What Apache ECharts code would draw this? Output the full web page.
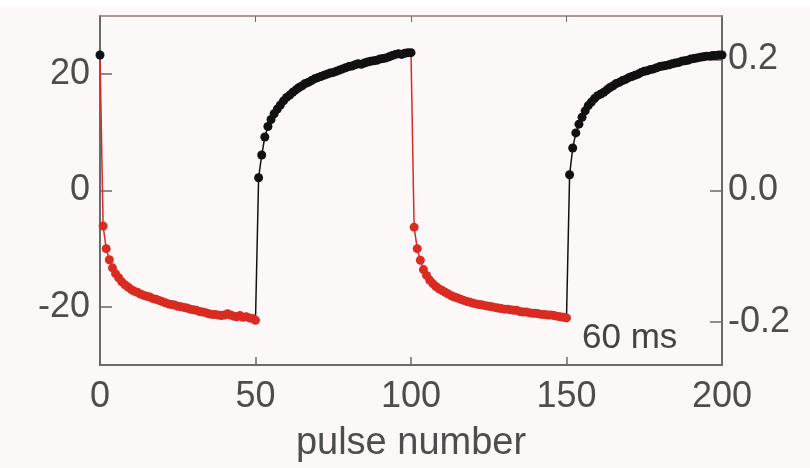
<!DOCTYPE html>
<html>
<head>
<meta charset="utf-8">
<script src="https://cdn.jsdelivr.net/npm/echarts@6/dist/echarts.min.js"></script>
<style>html,body{margin:0;padding:0;background:#fcf8f7;}#c{width:810px;height:468px;}</style>
</head>
<body>
<div id="c"></div>
<script>
// pulse 0 value (end of previous cycle)
var startVal = 23.3;
// pulses 1..50 (red)
var red1Vals = [-6.1,-10.0,-11.9,-13.3,-14.3,-15.0,-15.7,-16.2,-16.6,-17.0,
  -17.3,-17.5,-17.8,-18.0,-18.2,-18.3,-18.6,-18.7,-18.9,-19.1,
  -19.3,-19.5,-19.6,-19.7,-19.9,-20.0,-20.1,-20.2,-20.4,-20.5,
  -20.6,-20.8,-20.9,-21.0,-21.2,-21.3,-21.3,-21.4,-21.5,-21.4,
  -21.2,-21.4,-21.6,-21.7,-21.5,-21.8,-21.7,-21.9,-22.0,-22.3];
// pulses 51..100 (black)
var black2Vals = [2.2,6.1,9.2,11.0,12.2,13.2,14.0,14.7,15.4,16.0,
  16.4,16.9,17.3,17.7,18.0,18.4,18.6,18.9,19.2,19.4,
  19.6,19.8,20.0,20.2,20.3,20.5,20.7,20.9,21.1,21.3,
  21.4,21.6,21.8,21.7,21.9,22.1,22.2,22.3,22.4,22.6,
  22.7,22.8,23.0,23.2,23.4,23.5,23.4,23.6,23.7,23.7];
// pulses 101..150 (red)
var red3Vals = [-6.3,-10.0,-12.0,-13.6,-14.6,-15.4,-16.0,-16.5,-16.9,-17.2,
  -17.5,-17.8,-18.1,-18.3,-18.5,-18.7,-18.9,-19.1,-19.2,-19.4,
  -19.5,-19.6,-19.7,-19.8,-19.9,-20.0,-20.1,-20.2,-20.3,-20.4,
  -20.4,-20.5,-20.6,-20.6,-20.8,-20.9,-20.9,-21.0,-21.1,-21.1,
  -21.2,-21.3,-21.3,-21.4,-21.4,-21.5,-21.6,-21.7,-21.8,-21.9];
// pulses 151..200 (black)
var black4Vals = [2.7,7.3,9.9,11.4,12.6,13.7,14.6,15.2,15.8,16.3,
  16.6,16.9,17.3,17.7,18.0,18.4,18.6,18.9,19.1,19.4,
  19.6,19.8,20.0,20.3,20.5,20.6,20.8,20.9,21.1,21.3,
  21.4,21.5,21.6,21.8,21.9,22.0,22.2,22.3,22.4,22.6,
  22.7,22.8,22.9,23.0,23.1,23.1,23.2,23.2,23.3,23.3];
var xTicks = [50, 100, 150];
var leftTicks = [-20, 0, 20];
var rightTicks = [-0.2, 0, 0.2];

var RED = '#d92b22', BLACK = '#111111', TXT = '#4d4d4d', AX = '#6a6a6a';
var FONT = '"Liberation Sans", Arial, Helvetica, sans-serif';

function seg(prevX, prevY, startX, vals) {
  var d = [{value: [prevX, prevY], symbol: 'none'}];
  vals.forEach(function (v, i) { d.push([startX + i, v]); });
  return d;
}
var segs = [
  {color: BLACK, data: [[0, startVal]]},
  {color: RED, data: seg(0, startVal, 1, red1Vals)},
  {color: BLACK, data: seg(50, red1Vals[49], 51, black2Vals)},
  {color: RED, data: seg(100, black2Vals[49], 101, red3Vals)},
  {color: BLACK, data: seg(150, red3Vals[49], 151, black4Vals)}
];

var chart = echarts.init(document.getElementById('c'), null, {renderer: 'canvas'});
chart.setOption({
  backgroundColor: '#fcf8f7',
  animation: false,
  grid: {left: 100, right: 88, top: 16, bottom: 101, containLabel: false},
  graphic: [
    {type: 'rect', shape: {x: 0, y: 0, width: 810, height: 7}, style: {fill: '#ffffff'}, z: -10},
    {type: 'text', left: 582, top: 321, style: {text: '60 ms', font: '35px ' + FONT, fill: '#444'}}
  ],
  xAxis: [{
    type: 'value', min: 0, max: 200, interval: 50, position: 'bottom',
    name: 'pulse number', nameLocation: 'middle', nameGap: 60,
    nameTextStyle: {fontSize: 38, color: TXT, fontFamily: FONT},
    axisLine: {show: true, onZero: false, lineStyle: {color: AX, width: 2}},
    axisTick: {show: true, inside: true, length: 8, lineStyle: {color: AX, width: 1.5}, customValues: xTicks},
    axisLabel: {fontSize: 36, color: TXT, fontFamily: FONT, margin: 14},
    splitLine: {show: false}
  }, {
    type: 'value', min: 0, max: 200, interval: 50, position: 'top',
    axisLine: {show: true, onZero: false, lineStyle: {color: '#8a7a74', width: 1.5}},
    axisTick: {show: true, inside: true, length: 6, lineStyle: {color: AX, width: 1}, customValues: xTicks},
    axisLabel: {show: false},
    splitLine: {show: false}
  }],
  yAxis: [{
    type: 'value', min: -30, max: 30, position: 'left',
    axisLine: {show: true, onZero: false, lineStyle: {color: AX, width: 2}},
    axisTick: {show: true, inside: true, length: 12, lineStyle: {color: AX, width: 1.5}, customValues: leftTicks},
    axisLabel: {fontSize: 36, color: TXT, fontFamily: FONT, margin: 10, customValues: leftTicks},
    splitLine: {show: false}
  }, {
    type: 'value', min: -0.266, max: 0.266, position: 'right',
    axisLine: {show: true, onZero: false, lineStyle: {color: AX, width: 2}},
    axisTick: {show: true, inside: true, length: 12, lineStyle: {color: AX, width: 1.5}, customValues: rightTicks},
    axisLabel: {fontSize: 36, color: TXT, fontFamily: FONT, margin: 6, customValues: rightTicks,
      formatter: function (v) { return v.toFixed(1); }},
    splitLine: {show: false}
  }],
  series: segs.map(function (s) {
    return {
      type: 'line', xAxisIndex: 0, yAxisIndex: 0, data: s.data,
      symbol: 'circle', symbolSize: 9, showSymbol: true,
      lineStyle: {color: s.color, width: 1.5},
      itemStyle: {color: s.color},
      clip: false
    };
  })
});
</script>
</body>
</html>
